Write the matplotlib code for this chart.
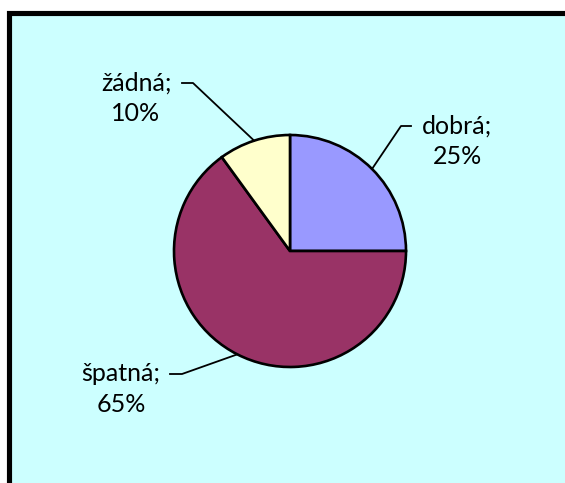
import numpy as np
import matplotlib.pyplot as plt
from matplotlib.patches import Rectangle

labels = ['dobrá', 'špatná', 'žádná']
shares = [25, 65, 10]
colors = ['#9999FF', '#993366', '#FFFFCC']

W, H = 565, 483
fig = plt.figure(figsize=(W / 100, H / 100), dpi=100)
fig.patch.set_facecolor('white')
ax = fig.add_axes([0, 0, 1, 1])

# plot area with thick frame (cut off at the right/bottom)
ax.add_patch(Rectangle((8.5, -20), 620, H - 13 + 20, facecolor='#CCFFFF',
                       edgecolor='black', linewidth=3.7, zorder=0))

cx, cy, r = 290, H - 251, 116
wedges, _ = ax.pie(shares, colors=colors, startangle=90, counterclock=False,
                   center=(cx, cy), radius=r, frame=True,
                   wedgeprops=dict(edgecolor='black', linewidth=1.9))
ax.set_xlim(0, W)
ax.set_ylim(0, H)
ax.axis('off')
ax.set_aspect('equal')

# label text positions and leader elbows (pixel coords, y from top)
text_pos = [(457, 141), (121, 389), (136, 98)]
elbows = [[(401, 126), (411, 126)], [(182, 374), (170, 374)], [(193, 83), (182, 83)]]

for w, lab, val, tp, el in zip(wedges, labels, shares, text_pos, elbows):
    mid = np.deg2rad((w.theta1 + w.theta2) / 2)
    ax_ = cx + r * np.cos(mid)
    ay_ = cy + r * np.sin(mid)
    xs = [ax_] + [p[0] for p in el]
    ys = [ay_] + [H - p[1] for p in el]
    ax.plot(xs, ys, color='black', linewidth=1.3, zorder=5)
    ax.text(tp[0], H - tp[1], f'{lab};\n{val}%', ha='center', va='center',
            multialignment='center', fontsize=18, family='Lato',
            linespacing=1.4, color='black')

fig.savefig('out.png', dpi=100)
